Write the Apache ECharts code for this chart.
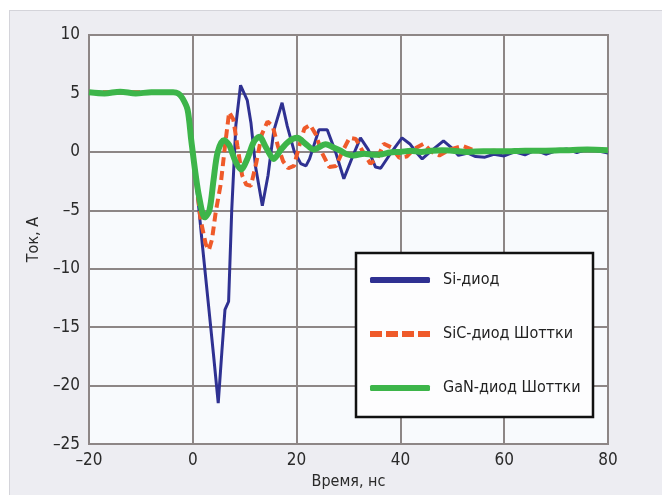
<!DOCTYPE html>
<html>
<head>
<meta charset="utf-8">
<script src="https://cdn.jsdelivr.net/npm/echarts@6/dist/echarts.min.js"></script>
<style>
  html, body { margin: 0; padding: 0; background: #fff; }
  #wrap { position: relative; width: 662px; height: 495px; }
  #panel { position: absolute; left: 9px; top: 10px; width: 653px; height: 485px;
           background: #ededf2; border-left: 1px solid #d4d4da; border-top: 1px solid #d4d4da; }
  #chart { position: absolute; left: 0; top: 0; width: 662px; height: 495px; }
</style>
</head>
<body>
<div id="wrap"><div id="panel"></div><div id="chart"></div></div>
<script>
// Si-диод
var siTime = [-20, -12, -5, -3.8, -2.8, -2, -1, -0.3, 0.5, 1.2, 1.9, 3, 4, 4.9, 5.6, 6.2, 6.9, 7.5, 8.3, 9.2,
  10.5, 11.2, 12.1, 13.4, 14.5, 15.6, 17.2, 18.2, 19.5, 20.8, 21.8, 22.5, 24.3, 25.9, 27.5, 29.1, 30.7, 32.3, 33.8, 35.2,
  36.2, 38, 40.3, 41.9, 43, 44.2, 46, 48.3, 50, 51.2, 53, 54.5, 56.3, 58, 60, 62, 64, 66, 68, 70, 72, 74, 76, 78, 80];
var siCurrent = [5.1, 5.1, 5.1, 5.1, 5.0, 4.6, 3.6, 1, -2, -5, -8.2, -13, -17.4, -21.5, -17.1, -13.5, -12.8, -5, 2.3, 5.7,
  4.4, 2.5, -1.3, -4.6, -2, 1.8, 4.2, 2.2, 0.1, -1.0, -1.2, -0.6, 1.9, 1.9, 0, -2.3, -0.5, 1.2, 0.2, -1.3,
  -1.4, -0.2, 1.2, 0.65, 0, -0.6, 0.1, 0.95, 0.3, -0.3, -0.1, -0.4, -0.45, -0.2, -0.35, 0, -0.25, 0.15, -0.2, 0.1, 0.25, -0.05, 0.25, 0.1, -0.1];

// SiC-диод Шоттки
var sicTime = [-20, -12, -5, -3.8, -2.8, -2, -1, -0.3, 0.5, 1.5, 2.5, 3.1, 3.7, 4.4, 5.4, 6.2, 7, 7.8, 8.6, 9.5,
  10.3, 11.2, 12.2, 13.3, 14.4, 15.4, 16.4, 17.4, 18.4, 19.5, 20.5, 21.5, 22.6, 23.7, 24.8, 26.3, 27.6, 28.8, 30.2, 31.4,
  32.8, 34.2, 35.5, 36.8, 38.2, 39.8, 41.2, 42.8, 44.5, 46, 47.5, 49.5, 52, 55, 58, 61, 64, 67, 70, 73, 76, 78, 80];
var sicCurrent = [5.1, 5.1, 5.1, 5.1, 5.0, 4.6, 3.6, 1, -2, -5.8, -7.9, -8.4, -7.5, -5.2, -2.7, 0.5, 3.4, 2.8, 0.5, -2,
  -2.8, -2.9, -1, 1.5, 2.6, 2.2, 0.5, -0.8, -1.4, -1.2, 0.5, 2, 2.3, 1.5, 0, -1.3, -1.2, 0, 1.2, 1.1,
  0, -1.0, -0.6, 0.7, 0.4, -0.5, -0.4, 0.3, 0.7, 0, -0.3, 0.2, 0.5, 0, 0.1, 0, 0.1, 0.05, 0.1, 0.2, 0.15, 0.2, 0.1];

// GaN-диод Шоттки
var ganTime = [-20, -17, -14, -11, -8, -5, -3.8, -2.8, -2, -1, -0.3, 0.5, 1.2, 2.3, 3.2, 4, 4.8, 6, 7, 8.2,
  9.3, 10.5, 11.7, 12.8, 14.2, 15.6, 17, 18.5, 20.1, 21.7, 23.3, 25.6, 27, 28.5, 29.7, 31, 33, 35, 36.5, 38,
  40, 42, 44, 46, 48, 50, 53, 56, 60, 64, 68, 72, 76, 80];
var ganCurrent = [5.1, 5.0, 5.15, 5.0, 5.1, 5.1, 5.1, 5.0, 4.6, 3.6, 1, -1.8, -3.8, -5.6, -5.0, -2.4, 0, 1.0, 0.6, -0.8,
  -1.5, -0.6, 0.8, 1.3, 0.3, -0.6, 0.2, 0.9, 1.2, 0.7, 0.2, 0.65, 0.4, 0.1, -0.2, -0.3, -0.15, -0.25, -0.2, -0.05,
  0, 0.1, 0, 0.1, 0.15, 0.1, 0, 0.05, 0.05, 0.1, 0.1, 0.15, 0.2, 0.15];

var seriesNames = ['Si-диод', 'SiC-диод Шоттки', 'GaN-диод Шоттки'];
var colors = ['#2f3192', '#ef5a2a', '#3db54a'];

function pairs(t, v) {
    return t.map(function (x, i) { return [x, v[i]]; });
}
function dash(v) { return String(v).replace('-', '\u2013'); }

var font = "'Liberation Sans Narrow', 'DejaVu Sans Condensed', 'Roboto Condensed', sans-serif";
var gridColor = '#8d8686';
// пунктир для значка легенды
var dashIcon = 'path://M0,0h12v6h-12z M16,0h12v6h-12z M32,0h12v6h-12z M48,0h12v6h-12z';

var myChart = echarts.init(document.getElementById('chart'));
myChart.setOption({
    backgroundColor: 'transparent',
    animation: false,
    grid: {
        left: 89, right: 54, top: 35, bottom: 44,
        show: true,
        backgroundColor: '#f8fafd',
        borderColor: gridColor,
        borderWidth: 2
    },
    xAxis: {
        type: 'value',
        min: -20, max: 80, interval: 20,
        name: 'Время, нс',
        nameLocation: 'middle',
        nameGap: 26,
        nameTextStyle: { fontFamily: font, fontSize: 16, color: '#2a2a2a' },
        axisLine: { show: true, lineStyle: { color: gridColor, width: 2 } },
        axisTick: { show: false },
        axisLabel: { fontFamily: font, fontSize: 17, color: '#2a2a2a', margin: 8, formatter: dash },
        splitLine: { show: true, lineStyle: { color: gridColor, width: 2 } }
    },
    yAxis: {
        type: 'value',
        min: -25, max: 10, interval: 5,
        name: 'Ток, А',
        nameLocation: 'middle',
        nameGap: 43,
        nameTextStyle: { fontFamily: font, fontSize: 16, color: '#2a2a2a' },
        axisLine: { show: true, lineStyle: { color: gridColor, width: 2 } },
        axisTick: { show: false },
        axisLabel: { fontFamily: font, fontSize: 17, color: '#2a2a2a', margin: 9, formatter: dash },
        splitLine: { show: true, lineStyle: { color: gridColor, width: 2 } }
    },
    graphic: [{
        type: 'rect',
        z: 50,
        shape: { x: 356, y: 253, width: 237, height: 164 },
        style: { fill: '#fdfdfe', stroke: '#111', lineWidth: 2.5 }
    }],
    legend: {
        z: 60,
        orient: 'vertical',
        left: 370, top: 272,
        padding: 0,
        itemWidth: 60,
        itemHeight: 6,
        itemGap: 38,
        data: [
            { name: seriesNames[0], icon: 'roundRect', itemStyle: { color: colors[0] } },
            { name: seriesNames[1], icon: dashIcon, itemStyle: { color: colors[1] } },
            { name: seriesNames[2], icon: 'roundRect', itemStyle: { color: colors[2] } }
        ],
        textStyle: { fontFamily: font, fontSize: 16, color: '#222', padding: [0, 0, 0, 8] }
    },
    series: [{
        name: seriesNames[0],
        type: 'line',
        symbol: 'none',
        data: pairs(siTime, siCurrent),
        lineStyle: { color: colors[0], width: 3 },
        itemStyle: { color: colors[0] }
    }, {
        name: seriesNames[1],
        type: 'line',
        symbol: 'none',
        data: pairs(sicTime, sicCurrent),
        lineStyle: { color: colors[1], width: 4, type: [9, 5] },
        itemStyle: { color: colors[1] }
    }, {
        name: seriesNames[2],
        type: 'line',
        symbol: 'none',
        smooth: 0.3,
        data: pairs(ganTime, ganCurrent),
        lineStyle: { color: colors[2], width: 6 },
        itemStyle: { color: colors[2] }
    }]
});
</script>
</body>
</html>
